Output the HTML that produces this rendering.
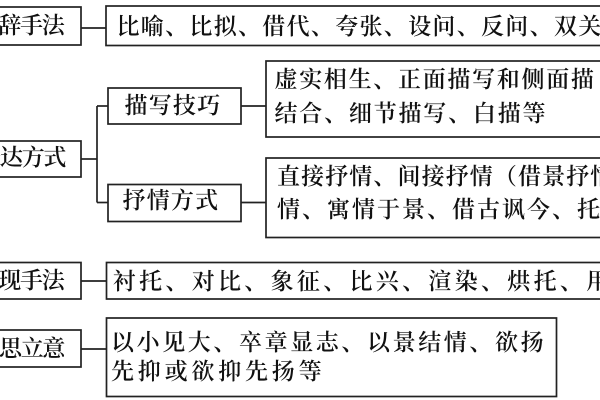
<!DOCTYPE html>
<html><head><meta charset="utf-8"><style>
html,body{margin:0;padding:0;background:#fff;}
body{width:600px;height:400px;overflow:hidden;position:relative;}
svg{position:absolute;left:0;top:0;}
.clip{position:absolute;left:0;top:0;width:600px;height:400px;overflow:hidden;}
.t{position:absolute;white-space:nowrap;font-family:"Liberation Serif","Noto Serif CJK SC",serif;font-size:23px;font-weight:600;line-height:30px;height:30px;color:#111;}
</style></head><body>
<svg width="600" height="400" viewBox="0 0 600 400">
<g fill="none" stroke="#222" stroke-width="1.7">
<rect x="-40" y="7" width="121" height="38"/>
<rect x="106" y="6" width="520" height="39.5"/>
<rect x="-40" y="141" width="121" height="36"/>
<rect x="108" y="88" width="133" height="36"/>
<rect x="266" y="61" width="400" height="76"/>
<rect x="108" y="184.5" width="133" height="37"/>
<rect x="266" y="158" width="400" height="79.5"/>
<rect x="-40" y="262.5" width="121" height="36.5"/>
<rect x="106.5" y="262.5" width="520" height="36.5"/>
<rect x="-40" y="330" width="121" height="37"/>
<rect x="106.5" y="318" width="450" height="78.5"/>
<line x1="81" y1="28" x2="106" y2="28"/>
<line x1="81" y1="159" x2="97" y2="159"/>
<line x1="97" y1="106" x2="97" y2="202.5"/>
<line x1="97" y1="106" x2="108" y2="106"/>
<line x1="97" y1="202.5" x2="108" y2="202.5"/>
<line x1="241" y1="106" x2="266" y2="106"/>
<line x1="241" y1="202.5" x2="266" y2="202.5"/>
<line x1="81" y1="281" x2="106.5" y2="281"/>
<line x1="81" y1="349" x2="106.5" y2="349"/>
</g>
</svg>
<div class="clip">
<div class="t" style="left:-23.3px;top:10.7px;letter-spacing:-1.3px">修辞手法</div>
<div class="t" style="left:-21.7px;top:143px;letter-spacing:-1.3px">表达方式</div>
<div class="t" style="left:-23.4px;top:265.7px;letter-spacing:-1.3px">表现手法</div>
<div class="t" style="left:-22.7px;top:334px;letter-spacing:-1.3px">构思立意</div>
<div class="t" style="left:116.5px;top:11.8px;letter-spacing:1.3px">比喻、比拟、借代、夸张、设问、反问、双关</div>
<div class="t" style="left:124.5px;top:90.7px;letter-spacing:1.2px">描写技巧</div>
<div class="t" style="left:274.5px;top:65.3px;letter-spacing:1.7px">虚实相生、正面描写和侧面描</div>
<div class="t" style="left:274.5px;top:99.3px;letter-spacing:1.8px">结合、细节描写、白描等</div>
<div class="t" style="left:122.5px;top:185.5px;letter-spacing:1.2px">抒情方式</div>
<div class="t" style="left:277px;top:161.5px;letter-spacing:1.1px">直接抒情、间接抒情（借景抒情</div>
<div class="t" style="left:277px;top:194.5px;letter-spacing:2px">情、寓情于景、借古讽今、托</div>
<div class="t" style="left:112.8px;top:266.5px;letter-spacing:3.3px">衬托、对比、象征、比兴、渲染、烘托、用</div>
<div class="t" style="left:111px;top:328px;letter-spacing:2.6px">以小见大、卒章显志、以景结情、欲扬</div>
<div class="t" style="left:111px;top:356.5px;letter-spacing:3.8px">先抑或欲抑先扬等</div>
</div>
</body></html>
